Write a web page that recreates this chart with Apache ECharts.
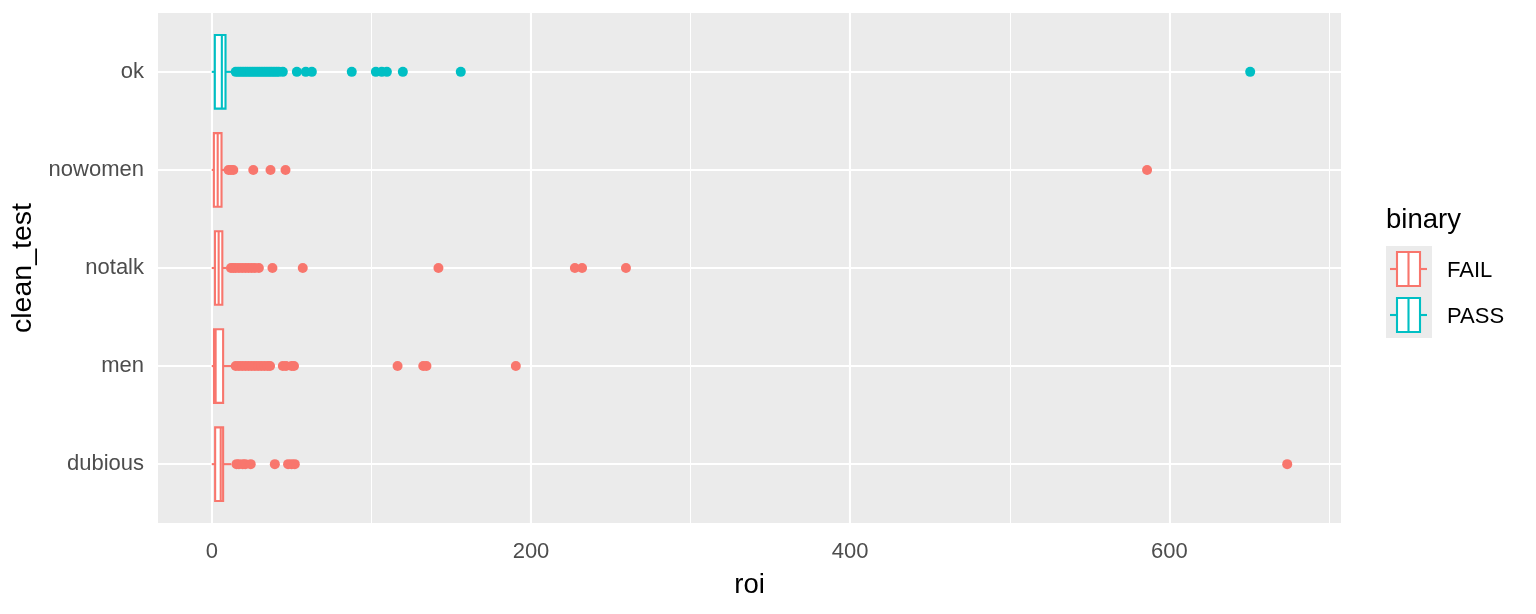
<!DOCTYPE html>
<html>
<head>
<meta charset="utf-8">
<script src="https://cdn.jsdelivr.net/npm/echarts@6/dist/echarts.min.js"></script>
<style>
html,body{margin:0;padding:0;background:#fff;}
#c{width:1536px;height:614px;}
</style>
</head>
<body>
<div id="c"></div>
<script>
// ---- data ----
const categories = ['dubious', 'men', 'notalk', 'nowomen', 'ok'];
const groupOf = ['FAIL', 'FAIL', 'FAIL', 'FAIL', 'PASS'];
const groups = ['FAIL', 'PASS'];
const whiskerLow = [0, 0, 0, 0, 0];
const q1 = [2.1, 1.4, 2.0, 1.3, 1.9];
const median = [5.6, 2.4, 4.3, 3.7, 6.3];
const q3 = [7.1, 7.1, 6.6, 6.1, 8.6];
const whiskerHigh = [12.3, 12.3, 9.4, 8.0, 14.4];
const outliersDubious = [15.5, 17, 19.4, 21, 24.4, 39.5, 47.8, 50, 52, 673.8];
const outliersMen = [15, 17, 19, 21, 23, 25, 27, 29, 31, 33, 35, 36.5, 44.5, 46.5, 50, 51.5, 116.4, 132.5, 134.5, 190.5];
const outliersNotalk = [12, 13.5, 15, 17, 19, 21, 23, 25, 27, 29.5, 38, 57, 142, 227.5, 232, 259.5];
const outliersNowomen = [10.5, 12, 13.5, 26, 36.8, 46.2, 586];
const outliersOk = [15, 16.5, 18, 19.5, 21, 22.5, 24, 25.5, 27, 28.5, 30, 31.5, 33, 34.5, 36, 37.5, 39, 40.5, 42, 44.5, 53.3, 58.9, 62.7, 87.7, 102.8, 106.5, 109.7, 119.7, 156, 650.6];
const xTicks = [0, 200, 400, 600];
const xMinorGrid = [100, 300, 500, 700];

const groupColors = {FAIL: '#F8766D', PASS: '#00BFC4'};
const outlierLists = [outliersDubious, outliersMen, outliersNotalk, outliersNowomen, outliersOk];
const catIdx = categories.map((c, i) => i);

const boxData = categories.map((c, i) => [i, whiskerLow[i], q1[i], median[i], q3[i], whiskerHigh[i], groups.indexOf(groupOf[i])]);
const outlierData = [];
outlierLists.forEach((list, i) => list.forEach(v => outlierData.push({value: [v, i], itemStyle: {color: groupColors[groupOf[i]]}})));

const gridLines = [];
xMinorGrid.forEach(v => gridLines.push({xAxis: v, lineStyle: {width: 1.05}}));
xTicks.forEach(v => gridLines.push({xAxis: v, lineStyle: {width: 2.1}}));
catIdx.forEach(i => gridLines.push({yAxis: i, lineStyle: {width: 2.1}}));

const chart = echarts.init(document.getElementById('c'), null, {renderer: 'canvas'});

const LBL = '#4D4D4D';
const FONT = '"Liberation Sans", Arial, sans-serif';

// legend (graphic)
const legendGraphics = [];
legendGraphics.push({type: 'text', x: 1386, y: 220, style: {text: 'binary', font: '27.5px ' + FONT, fill: '#000', verticalAlign: 'middle'}});
groups.forEach((g, k) => {
  const top = 246 + k * 46;
  const col = groupColors[g];
  legendGraphics.push({type: 'rect', shape: {x: 1386, y: top, width: 46, height: 46}, style: {fill: '#EBEBEB'}});
  const cy = top + 23;
  legendGraphics.push({type: 'line', shape: {x1: 1390, y1: cy, x2: 1397, y2: cy}, style: {stroke: col, lineWidth: 2.1}});
  legendGraphics.push({type: 'line', shape: {x1: 1420, y1: cy, x2: 1427, y2: cy}, style: {stroke: col, lineWidth: 2.1}});
  legendGraphics.push({type: 'rect', shape: {x: 1397, y: top + 6, width: 23, height: 34}, style: {fill: '#fff', stroke: col, lineWidth: 2.1}});
  legendGraphics.push({type: 'line', shape: {x1: 1408.5, y1: top + 6, x2: 1408.5, y2: top + 40}, style: {stroke: col, lineWidth: 2.1}});
  legendGraphics.push({type: 'text', x: 1447, y: cy + 2, style: {text: g, font: '22px ' + FONT, fill: '#000', verticalAlign: 'middle'}});
});

const option = {
  backgroundColor: '#fff',
  animation: false,
  textStyle: {fontFamily: FONT},
  grid: {left: 158, right: 195, top: 13, bottom: 91, show: true, backgroundColor: '#EBEBEB', borderWidth: 0},
  xAxis: {
    type: 'value', min: -33.7, max: 707.5,
    name: 'roi', nameLocation: 'middle', nameGap: 48,
    nameTextStyle: {fontSize: 27.5, color: '#000', fontFamily: FONT},
    axisLine: {show: false},
    axisTick: {show: true, customValues: xTicks, length: 7, lineStyle: {color: '#333', width: 2}},
    axisLabel: {customValues: xTicks, color: LBL, fontSize: 22, margin: 18, fontFamily: FONT},
    splitLine: {show: false}
  },
  yAxis: {
    type: 'value', min: -0.6, max: 4.6,
    name: 'clean_test', nameLocation: 'middle', nameGap: 116, nameRotate: 90,
    nameTextStyle: {fontSize: 28.5, color: '#000', fontFamily: FONT},
    axisLine: {show: false},
    axisTick: {show: true, customValues: catIdx, length: 7, lineStyle: {color: '#333', width: 2}},
    axisLabel: {customValues: catIdx, formatter: v => categories[Math.round(v)], color: LBL, fontSize: 22, margin: 14, fontFamily: FONT},
    splitLine: {show: false}
  },
  graphic: legendGraphics,
  series: [
    {
      type: 'scatter', name: 'grid', silent: true, z: 1,
      data: [],
      markLine: {
        silent: true, symbol: ['none', 'none'], animation: false, z: 1,
        label: {show: false},
        lineStyle: {color: '#fff', type: 'solid'},
        emphasis: {disabled: true},
        data: gridLines
      }
    },
    {
      type: 'custom', name: 'boxes', z: 3,
      data: boxData,
      encode: {x: [1, 2, 3, 4, 5], y: 0},
      renderItem: function (params, api) {
        const cat = api.value(0);
        const col = groupColors[groups[api.value(6)]];
        const pMin = api.coord([api.value(1), cat]);
        const pQ1 = api.coord([api.value(2), cat]);
        const pMed = api.coord([api.value(3), cat]);
        const pQ3 = api.coord([api.value(4), cat]);
        const pMax = api.coord([api.value(5), cat]);
        const h = api.size([0, 1])[1] * 0.75;
        const yc = pMin[1];
        const st = {stroke: col, lineWidth: 2.1, fill: null};
        return {
          type: 'group',
          children: [
            {type: 'line', shape: {x1: pMin[0], y1: yc, x2: pQ1[0], y2: yc}, style: st},
            {type: 'line', shape: {x1: pQ3[0], y1: yc, x2: pMax[0], y2: yc}, style: st},
            {type: 'rect', shape: {x: pQ1[0], y: yc - h / 2, width: pQ3[0] - pQ1[0], height: h}, style: {stroke: col, lineWidth: 2.1, fill: '#fff'}},
            {type: 'line', shape: {x1: pMed[0], y1: yc - h / 2, x2: pMed[0], y2: yc + h / 2}, style: st}
          ]
        };
      }
    },
    {
      type: 'scatter', name: 'outliers', z: 4,
      symbol: 'circle', symbolSize: 10,
      itemStyle: {opacity: 1},
      data: outlierData
    }
  ]
};
chart.setOption(option);
</script>
</body>
</html>
